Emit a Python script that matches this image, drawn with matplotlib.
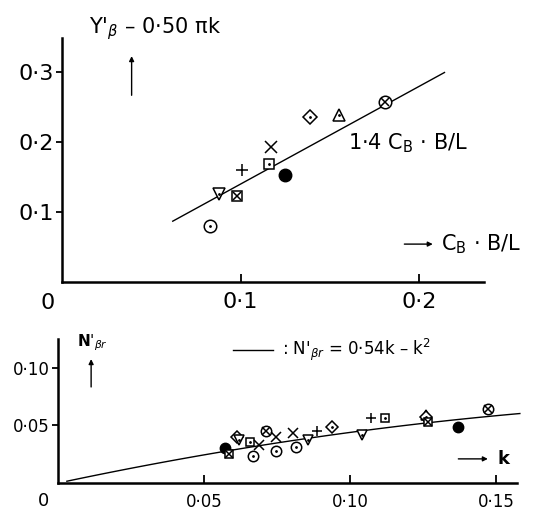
import numpy as np
import matplotlib.pyplot as plt

plt.rcParams['font.family'] = ['DejaVu Sans']

# upper panel: Y'b - 0.50 pi k against CB*B/L
top_x = [0.083, 0.088, 0.098, 0.101, 0.117, 0.116, 0.125, 0.139, 0.155, 0.181]
top_y = [0.080, 0.126, 0.123, 0.160, 0.193, 0.169, 0.153, 0.236, 0.239, 0.257]
top_sym = ['odot', 'tri_down', 'sq_x', 'plus', 'x', 'sq_dot', 'filled', 'dia_dot', 'tri_up', 'o_x']
top_coef = 1.4

# lower panel: N'br against k
bot_k = [0.0572, 0.0586, 0.0613, 0.0620, 0.0658, 0.0666, 0.0686, 0.0712, 0.0747, 0.0747,
         0.0804, 0.0815, 0.0856, 0.0886, 0.0938, 0.1040, 0.1070, 0.1120, 0.1260, 0.1260,
         0.1265, 0.1370, 0.1470]
bot_n = [0.0304, 0.0250, 0.0400, 0.0370, 0.0357, 0.0235, 0.0330, 0.0450, 0.0400, 0.0280,
         0.0435, 0.0310, 0.0370, 0.0450, 0.0490, 0.0420, 0.0565, 0.0565, 0.0590, 0.0575,
         0.0530, 0.0490, 0.0640]
bot_sym = ['filled', 'sq_x', 'dia_dot', 'tri_down', 'sq_dot', 'odot', 'x', 'o_x', 'x', 'odot',
           'x', 'odot', 'tri_down', 'plus', 'dia_dot', 'tri_down', 'plus', 'sq_dot', 'tri_up', 'dia_dot',
           'sq_x', 'filled', 'o_x']

# symbol -> (outer marker, inner marker)
styles = {
    'odot': ('o', '.'), 'tri_down': ('v', '.'), 'tri_up': ('^', '.'),
    'sq_x': ('s', 'x'), 'sq_dot': ('s', '.'), 'dia_dot': ('D', '.'),
    'o_x': ('o', 'x'), 'plus': (None, '+'), 'x': (None, 'x'), 'filled': ('o', None),
}


def draw(ax, xs, ys, syms, ms):
    for x, y, s in zip(xs, ys, syms):
        outer, inner = styles[s]
        if s == 'filled':
            ax.plot(x, y, 'o', ms=ms, color='k', clip_on=False)
            continue
        if outer is not None:
            m = ms * 0.8 if outer in ('s', 'D') else ms
            ax.plot(x, y, outer, ms=m, mfc='white', mec='k', mew=1.1, clip_on=False)
        if inner == '.':
            ax.plot(x, y, '.', ms=2, color='k', clip_on=False)
        elif inner is not None:
            m = ms * 0.7 if outer is not None else ms
            ax.plot(x, y, inner, ms=m, color='k', mew=1.1, clip_on=False)


def style_axes(ax, fs):
    for side in ['top', 'right']:
        ax.spines[side].set_visible(False)
    for side in ['left', 'bottom']:
        ax.spines[side].set_linewidth(1.8)
    ax.tick_params(axis='y', direction='out', length=4, width=1.3, pad=2, labelsize=fs)
    ax.tick_params(axis='x', direction='in', length=6, width=1.3, pad=7, labelsize=fs)


fig = plt.figure(figsize=(5.43, 5.20), dpi=100)
arrow = dict(arrowstyle='-|>', lw=1.0, color='k', mutation_scale=7)

# ---- top ----
ax1 = fig.add_axes([0.114, 0.458, 0.777, 0.469])
ax1.set_xlim(0, 0.236)
ax1.set_ylim(0, 0.349)
style_axes(ax1, 16)
ax1.set_xticks([0.1, 0.2])
ax1.set_xticklabels(['0·1', '0·2'])
ax1.set_yticks([0.1, 0.2, 0.3])
ax1.set_yticklabels(['0·1', '0·2', '0·3'])
xl = np.linspace(0.062, 0.214, 20)
ax1.plot(xl, top_coef * xl, color='k', lw=1.0)
draw(ax1, top_x, top_y, top_sym, 9)
ax1.text(-0.004, -0.016, '0', fontsize=16, ha='right', va='top')
ax1.text(0.015, 0.362, "Y$'_\\beta$ – 0·50 πk", fontsize=15, ha='left', va='center', clip_on=False)
ax1.annotate('', xy=(0.039, 0.327), xytext=(0.039, 0.263), arrowprops=arrow)
ax1.text(0.160, 0.199, '1·4 C$_{\\mathregular{B}}$ · B/L', fontsize=15, ha='left', va='center')
ax1.annotate('', xy=(0.209, 0.054), xytext=(0.190, 0.054), arrowprops=arrow)
ax1.text(0.212, 0.054, 'C$_{\\mathregular{B}}$ · B/L', fontsize=15, ha='left', va='center', clip_on=False)

# ---- bottom ----
ax2 = fig.add_axes([0.107, 0.071, 0.845, 0.277])
ax2.set_xlim(0, 0.157)
ax2.set_ylim(0, 0.125)
style_axes(ax2, 12)
ax2.set_xticks([0.05, 0.10, 0.15])
ax2.set_xticklabels(['0·05', '0·10', '0·15'])
ax2.set_yticks([0.05, 0.10])
ax2.set_yticklabels(['0·05', '0·10'])
kl = np.linspace(0.003, 0.158, 60)
ax2.plot(kl, 0.54 * kl - kl ** 2, color='k', lw=1.0, clip_on=False)
draw(ax2, bot_k, bot_n, bot_sym, 7.5)
ax2.text(-0.003, -0.008, '0', fontsize=13, ha='right', va='top')
ax2.text(0.0065, 0.122, "N$'_{\\beta r}$", fontsize=11, ha='left', va='center', fontweight='bold')
ax2.annotate('', xy=(0.0113, 0.110), xytext=(0.0113, 0.081), arrowprops=arrow)
ax2.plot([0.060, 0.0736], [0.1157, 0.1157], color='k', lw=1.0)
ax2.text(0.0765, 0.1157, ": N$'_{\\beta r}$ = 0·54k – k$^2$", fontsize=12, ha='left', va='center')
ax2.annotate('', xy=(0.148, 0.021), xytext=(0.136, 0.021), arrowprops=arrow)
ax2.text(0.1505, 0.021, 'k', fontsize=13, ha='left', va='center', fontweight='bold')

fig.savefig('out.png', dpi=100)
